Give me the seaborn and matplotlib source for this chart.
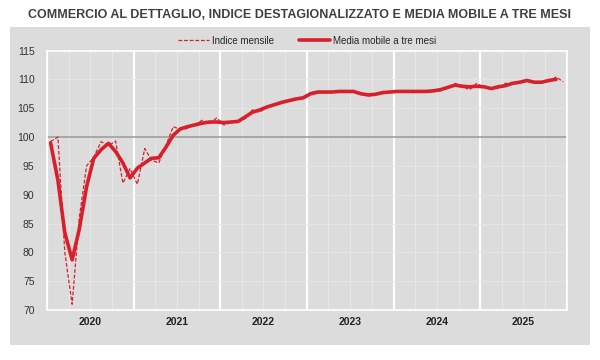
import numpy as np
import pandas as pd
import seaborn as sns
import matplotlib.pyplot as plt
import matplotlib.dates as mdates
from matplotlib.patches import Rectangle

# monthly index (seasonally adjusted), Jan 2020 - Dec 2025
indice_mensile = [99.2, 100.0, 80.0, 71.0, 86.0, 95.0, 96.5, 99.2, 98.5, 99.3, 92.0, 94.5,
                  91.8, 98.0, 96.0, 95.5, 98.5, 101.8, 101.3, 101.5, 102.2, 102.9, 102.3, 103.3,
                  102.1, 102.5, 102.6, 103.2, 104.7, 104.3, 105.2, 105.6, 105.8, 106.3, 106.5, 106.8,
                  107.7, 107.9, 107.7, 107.9, 107.8, 108.0, 108.0, 107.5, 107.1, 107.4, 107.8, 107.7,
                  108.0, 107.9, 107.8, 108.0, 107.8, 108.1, 108.0, 108.5, 109.3, 108.8, 108.2, 109.3,
                  108.6, 108.5, 108.4, 109.3, 109.2, 109.5, 109.8, 109.4, 109.6, 109.6, 110.4, 109.6]
# three month moving average (ends Nov 2025)
media_mobile = [99.0, 92.5, 83.4, 78.7, 84.0, 91.4, 96.3, 97.8, 98.9, 97.5, 95.5, 92.9,
                94.6, 95.5, 96.3, 96.4, 98.2, 100.3, 101.4, 101.8, 102.1, 102.4, 102.6, 102.6,
                102.5, 102.6, 102.7, 103.5, 104.3, 104.7, 105.2, 105.6, 106.0, 106.3, 106.6, 106.8,
                107.5, 107.8, 107.8, 107.8, 107.9, 107.9, 107.9, 107.5, 107.3, 107.4, 107.7, 107.8,
                107.9, 107.9, 107.9, 107.9, 107.9, 108.0, 108.2, 108.6, 109.0, 108.8, 108.7, 108.8,
                108.7, 108.4, 108.7, 108.9, 109.3, 109.5, 109.8, 109.5, 109.5, 109.8, 110.0]
anni = [2020, 2021, 2022, 2023, 2024, 2025]
titolo = 'COMMERCIO AL DETTAGLIO, INDICE DESTAGIONALIZZATO E MEDIA MOBILE A TRE MESI'

mesi = pd.date_range('2020-01-01', periods=len(indice_mensile), freq='MS') + pd.Timedelta(days=15)
df_m = pd.DataFrame({'data': mesi, 'valore': indice_mensile})
df_mm = pd.DataFrame({'data': mesi[:len(media_mobile)], 'valore': media_mobile})

sns.set_style('white')
plt.rcParams['font.family'] = ['Liberation Sans', 'DejaVu Sans']

rosso = '#d7202b'
grigio = '#dcdcdc'

fig = plt.figure(figsize=(6, 3.6), dpi=100)
# grey background box behind the chart
bg = fig.add_axes([10 / 600, 1 - 345 / 360, 580 / 600, 318 / 360], zorder=-1)
bg.add_patch(Rectangle((0, 0), 1, 1, transform=bg.transAxes, facecolor=grigio, edgecolor='none'))
bg.set_axis_off()

ax = fig.add_axes([47 / 600, 1 - 310 / 360, 520 / 600, 259.5 / 360])
ax.set_facecolor(grigio)

sns.lineplot(data=df_m, x='data', y='valore', ax=ax, color=rosso, lw=0.9, ls=(0, (3, 1.5)),
             label='Indice mensile', zorder=3)
sns.lineplot(data=df_mm, x='data', y='valore', ax=ax, color=rosso, lw=2.6,
             label='Media mobile a tre mesi', zorder=4)
ax.axhline(100, color='#999999', lw=1.1, zorder=2)

ax.set_xlim(pd.Timestamp('2020-01-01'), pd.Timestamp('2026-01-01'))
ax.set_ylim(70, 115)
ax.set_yticks(range(70, 116, 5))
ax.xaxis.set_major_locator(mdates.YearLocator())
ax.xaxis.set_minor_locator(mdates.MonthLocator(bymonth=[4, 7, 10]))
ax.xaxis.set_major_formatter(plt.NullFormatter())
ax.grid(which='major', axis='x', color='white', lw=1.6)
ax.grid(which='minor', axis='x', color='#e8e8e8', lw=0.6)
ax.grid(which='major', axis='y', color='#e6e6e6', lw=0.6)
ax.tick_params(axis='both', which='both', length=0, labelsize=7.5, colors='#333333', pad=9)
for a in anni:
    ax.text(pd.Timestamp(f'{a}-07-01'), -0.045, str(a), transform=ax.get_xaxis_transform(),
            ha='center', va='center', fontsize=7.5, fontweight='bold', color='#222222')
for s in ax.spines.values():
    s.set_color('white')
    s.set_linewidth(1.2)
ax.set_xlabel('')
ax.set_ylabel('')

ax.legend(loc='lower center', bbox_to_anchor=(0.5, 1.0), ncol=2, frameon=False,
          fontsize=7, handlelength=3.2, columnspacing=2.5, handletextpad=0.3, borderaxespad=0.1)

t = fig.text(0.5, 1 - 15 / 360, titolo, ha='center', va='center',
             fontsize=12, fontweight='bold', color='#3f3f3f')
# shrink title until it spans about 540 px like the reference
r = fig.canvas.get_renderer()
w = t.get_window_extent(r).width
t.set_fontsize(12 * 540 / w)

fig.savefig('out.png', dpi=100)
